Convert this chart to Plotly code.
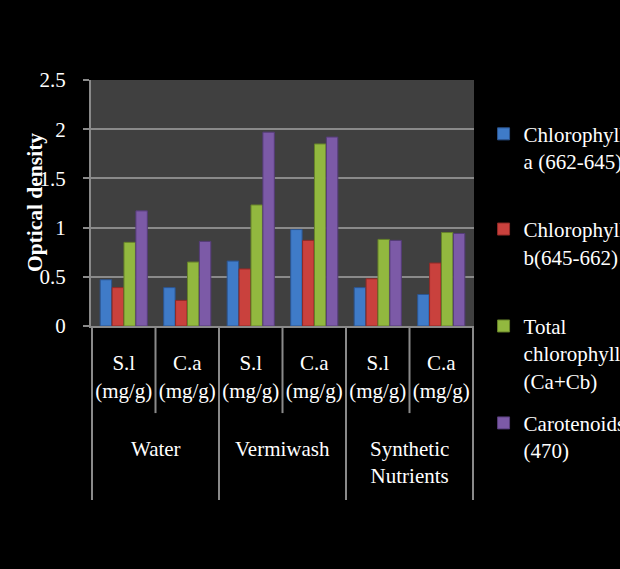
import plotly.graph_objects as go

# Treatment groups and the two plant samples measured under each
groups = ["Water", "Vermiwash", "Synthetic<br>Nutrients"]
samples = ["S.l", "C.a"]
unit = "(mg/g)"

# Pigment readings (optical density), one value per group/sample pair
chl_a = [0.47, 0.39, 0.66, 0.98, 0.39, 0.32]
chl_b = [0.39, 0.26, 0.58, 0.87, 0.48, 0.64]
chl_total = [0.85, 0.65, 1.23, 1.85, 0.88, 0.95]
carotenoids = [1.17, 0.86, 1.97, 1.92, 0.87, 0.94]

series_names = [
    "Chlorophyll<br>a (662-645)",
    "Chlorophyll<br>b(645-662)",
    "Total<br>chlorophyll<br>(Ca+Cb)",
    "Carotenoids<br>(470)",
]
series_values = [chl_a, chl_b, chl_total, carotenoids]
series_colors = ["#3f7bc8", "#c9413d", "#92b83f", "#7c5aa7"]
series_edges = ["#2b5590", "#8f2a27", "#66822a", "#553c78"]

y_ticks = [0, 0.5, 1, 1.5, 2, 2.5]

FONT = "Liberation Serif"
FS = 21
GRID = "#8a8a8a"

cat_keys = [f"{g}|{s}" for g in groups for s in samples]
cat_text = [f"{s}<br>{unit}" for g in groups for s in samples]

fig = go.Figure()

legend_tops = [0.863, 0.476, 0.082, -0.312]
for i, (name, vals, col, edge) in enumerate(
        zip(series_names, series_values, series_colors, series_edges)):
    lg = "legend" if i == 0 else f"legend{i + 1}"
    fig.add_trace(go.Bar(
        x=cat_keys, y=vals, name=name,
        marker=dict(color=col, line=dict(color=edge, width=1)),
        legend=lg,
    ))

# One legend box per series so each entry sits at its own height
legend_common = dict(
    x=1.025, xanchor="left", yanchor="top",
    bgcolor="rgba(0,0,0,0)", borderwidth=0,
    font=dict(family=FONT, size=FS, color="white"),
    valign="top",
)
for i, top in enumerate(legend_tops):
    key = "legend" if i == 0 else f"legend{i + 1}"
    fig.update_layout({key: dict(y=top, **legend_common)})

# Divider lines beneath the category axis
n = len(cat_keys)
shapes = []
for b in range(n + 1):
    pos = b - 0.5
    is_group_edge = (b % len(samples) == 0)
    shapes.append(dict(
        type="line", xref="x", yref="paper",
        x0=pos, x1=pos, y0=0, y1=-0.707 if is_group_edge else -0.354,
        line=dict(color=GRID, width=2), layer="above",
    ))

annotations = []
for gi, g in enumerate(groups):
    center = gi * len(samples) + (len(samples) - 1) / 2
    annotations.append(dict(
        x=center, xref="x", y=-0.442, yref="paper",
        text=g, showarrow=False, xanchor="center", yanchor="top",
        font=dict(family=FONT, size=FS, color="white"), align="center",
    ))
annotations.append(dict(
    x=-0.146, xref="paper", y=0.5, yref="paper",
    text="<b>Optical density</b>", textangle=-90, showarrow=False,
    xanchor="center", yanchor="middle",
    font=dict(family=FONT, size=21.5, color="white"),
))

fig.update_layout(
    width=620, height=569,
    margin=dict(l=91, r=146, t=80, b=243, autoexpand=False),
    paper_bgcolor="black", plot_bgcolor="#404040",
    barmode="group", bargap=0.25, bargroupgap=0.04,
    font=dict(family=FONT, size=FS, color="white"),
    shapes=shapes, annotations=annotations,
    showlegend=True,
)
fig.update_xaxes(
    type="category", tickvals=cat_keys, ticktext=cat_text,
    showline=True, linecolor=GRID, linewidth=2,
    showgrid=False, ticks="", ticklabelstandoff=17,
    tickfont=dict(family=FONT, size=FS, color="white"),
)
fig.update_yaxes(
    range=[0, 2.5], tickvals=y_ticks,
    showgrid=True, gridcolor=GRID, gridwidth=2,
    showline=True, linecolor=GRID, linewidth=2,
    ticks="outside", ticklen=6, tickcolor=GRID, tickwidth=2,
    ticklabelstandoff=13, zeroline=False,
    tickfont=dict(family=FONT, size=FS, color="white"),
)

fig.write_html("out.html")
